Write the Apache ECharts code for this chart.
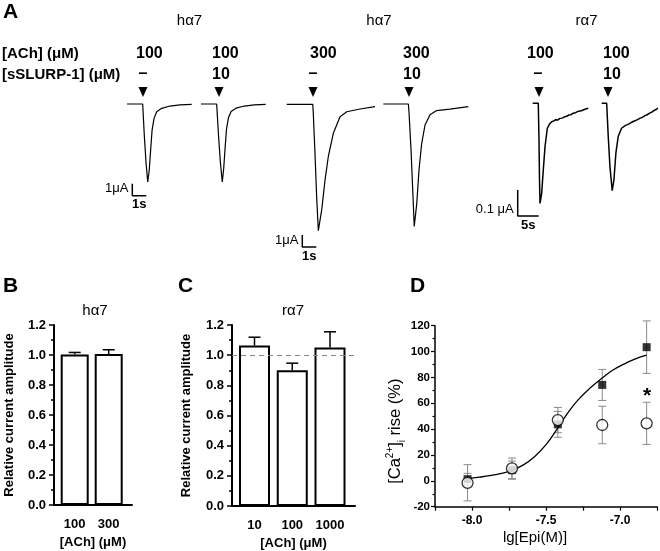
<!DOCTYPE html>
<html>
<head>
<meta charset="utf-8">
<script src="https://cdn.jsdelivr.net/npm/echarts@6/dist/echarts.min.js"></script>
<style>
html,body{margin:0;padding:0;background:#fff;}
#chart{width:660px;height:551px;}
</style>
</head>
<body>
<div id="chart"></div>
<script>
// ---------------- DATA ----------------
// Panel A: group titles and application labels
const groupTitles = ['hα7', 'hα7', 'rα7'];
const achConc = ['100', '100', '300', '300', '100', '100'];
const slurpConc = ['–', '10', '–', '10', '–', '10'];

// Panel A: current traces (time in s from trace start, current in μA)
const trace1T = [0, 1.12, 1.24, 1.36, 1.48, 1.59, 1.69, 1.79, 1.93, 2.12, 2.48, 3.07, 3.79, 4.62];
const trace1I = [0, 0, -2.7, -4.9, -6.5, -5.5, -3.8, -2.2, -1.2, -0.64, -0.36, -0.17, -0.08, -0.03];
const trace2T = [0, 1.12, 1.25, 1.38, 1.52, 1.62, 1.72, 1.82, 1.96, 2.15, 2.5, 3.1, 3.8, 4.62];
const trace2I = [0, 0, -2.6, -4.8, -6.5, -5.4, -3.7, -2.1, -1.15, -0.62, -0.35, -0.17, -0.08, -0.03];
const trace3T = [0, 1.86, 1.9, 2.02, 2.14, 2.26, 2.5, 2.74, 2.97, 3.33, 3.81, 4.29, 5.24, 6.31];
const trace3I = [0, 0, -0.75, -4.08, -7.7, -10.53, -8.8, -6.3, -4.37, -2.42, -1.03, -0.62, -0.39, -0.2];
const trace4T = [0, 1.79, 1.84, 1.98, 2.1, 2.21, 2.39, 2.55, 2.74, 2.98, 3.34, 3.81, 4.76, 6.07];
const trace4I = [0, 0, -0.75, -3.8, -7.1, -10.2, -8.3, -5.5, -3.3, -1.75, -0.9, -0.55, -0.42, -0.22];
const trace5T = [0, 1.33, 1.5, 1.62, 1.74, 2.14, 2.52, 2.93, 3.48, 4.0, 4.52, 5.0, 5.5, 6.0, 6.5, 7.0, 7.6, 8.1, 8.6, 9.1, 9.67, 10.2, 10.8, 11.4, 12.0, 12.6, 13.24];
const trace5I = [0, 0, -0.141, -0.295, -0.385, -0.346, -0.257, -0.167, -0.096, -0.080, -0.071, -0.068, -0.063, -0.064, -0.058, -0.057, -0.052, -0.050, -0.045, -0.044, -0.038, -0.036, -0.031, -0.030, -0.026, -0.022, -0.019];
const trace6T = [0, 1.19, 1.57, 1.98, 2.52, 2.93, 3.4, 3.95, 4.76, 5.2, 5.7, 6.2, 6.74, 7.4, 8.0, 8.6, 9.12, 9.7, 10.3, 10.9, 11.5, 12.0, 12.5, 13.0, 13.48];
const trace6I = [0, 0, -0.128, -0.244, -0.336, -0.295, -0.192, -0.128, -0.096, -0.091, -0.085, -0.082, -0.077, -0.071, -0.067, -0.063, -0.058, -0.054, -0.048, -0.044, -0.038, -0.034, -0.028, -0.024, -0.019];

// Panel A: scale bars (current, time)
const scaleBarCurrent = [1, 1, 0.1];
const scaleBarTime = [1, 1, 5];
const scaleBarCurrentLabel = ['1μA', '1μA', '0.1 μA'];
const scaleBarTimeLabel = ['1s', '1s', '5s'];

// Panel B
const catB = ['100', '300'];
const valB = [1.004, 1.006];
const errB = [0.013, 0.029];

// Panel C
const catC = ['10', '100', '1000'];
const valC = [1.064, 0.900, 1.051];
const errC = [0.055, 0.047, 0.104];

// Panel D
const xD = [-8.03, -7.73, -7.42, -7.12, -6.82];
const ySquare = [1.3, 8.3, 43.7, 74.2, 103.4];
const eSquare = [4.5, 7, 10, 12, 20.3];
const yCircle = [-1.5, 9.6, 47, 43.2, 44.5];
const eCircle = [14, 8, 9.8, 14.5, 16.3];
const curveX = [-8.03, -7.95, -7.88, -7.80, -7.73, -7.65, -7.58, -7.50, -7.42, -7.35, -7.28, -7.20, -7.12, -7.05, -6.97, -6.90, -6.82];
const curveY = [1.9, 2.9, 4.0, 5.8, 8.2, 12.5, 18.5, 28, 41, 53, 63, 72, 79.5, 85.5, 90.5, 94.2, 97.2];

// ---------------- LAYOUT ----------------
const FF = '"Liberation Sans", Arial, Helvetica, sans-serif';
const traceT = [trace1T, trace2T, trace3T, trace4T, trace5T, trace6T];
const traceI = [trace1I, trace2I, trace3I, trace4I, trace5I, trace6I];
// baseline start pixel and scale (px per s, px per μA)
const traceLayout = [
  {x0: 127, y0: 104, pxS: 14, pxI: 12},
  {x0: 201, y0: 104, pxS: 14, pxI: 12},
  {x0: 286.7, y0: 104.3, pxS: 14, pxI: 12},
  {x0: 383.3, y0: 104, pxS: 14, pxI: 12},
  {x0: 532.7, y0: 103.3, pxS: 4.2, pxI: 260},
  {x0: 601.7, y0: 103.3, pxS: 4.2, pxI: 260}
];
const scaleLayout = [
  {x0: 132.3, y0: 195.7, pxS: 14, pxI: 12},
  {x0: 302.3, y0: 247, pxS: 14, pxI: 12},
  {x0: 517.7, y0: 216, pxS: 4.2, pxI: 260}
];
const arrowX = [143, 219, 313, 409, 539, 608];
const colLeft = [136, 212, 310, 403, 527, 603];
const dashCenter = [143, 219, 313, 409, 538, 608];

const grids = [], xAxes = [], yAxes = [], series = [];
function hiddenAxis(min, max, gi) {
  return {gridIndex: gi, type: 'value', min: min, max: max, show: false, scale: false};
}
// traces
traceT.forEach((tArr, k) => {
  const L = traceLayout[k];
  const tMax = tArr[tArr.length - 1] + 0.5;
  const iMin = Math.min.apply(null, traceI[k]) * 1.1;
  const iMax = -iMin * 0.1;
  const gi = grids.length;
  grids.push({left: L.x0, top: L.y0 - iMax * L.pxI, width: tMax * L.pxS, height: (iMax - iMin) * L.pxI});
  xAxes.push(hiddenAxis(0, tMax, gi));
  yAxes.push(hiddenAxis(iMin, iMax, gi));
  series.push({
    type: 'line', xAxisIndex: gi, yAxisIndex: gi,
    data: tArr.map((t, j) => [t, traceI[k][j]]),
    showSymbol: false, clip: false, silent: true,
    lineStyle: {color: '#000', width: k >= 4 ? 1.5 : 1.2}
  });
});
// scale bars
scaleBarCurrent.forEach((c, k) => {
  const L = scaleLayout[k];
  const s = scaleBarTime[k];
  const gi = grids.length;
  grids.push({left: L.x0, top: L.y0 - c * L.pxI, width: s * L.pxS, height: c * L.pxI});
  xAxes.push(hiddenAxis(0, s, gi));
  yAxes.push(hiddenAxis(0, c, gi));
  series.push({
    type: 'line', xAxisIndex: gi, yAxisIndex: gi,
    data: [[0, c], [0, 0], [s, 0]],
    showSymbol: false, clip: false, silent: true,
    lineStyle: {color: '#000', width: 1.5}
  });
});

function axisStyleBC(gi, xmin, xmax, cats, nameGapY) {
  return {
    x: {
      gridIndex: gi, type: 'value', min: xmin, max: xmax,
      axisLine: {show: true, onZero: false, lineStyle: {color: '#000', width: 2}},
      axisTick: {show: false}, splitLine: {show: false},
      axisLabel: {customValues: cats.map((c, i) => i + 1), formatter: v => cats[Math.round(v) - 1] || '',
        color: '#000', fontWeight: 'bold', fontSize: 13, fontFamily: FF, margin: 13},
      name: '[ACh] (μM)', nameLocation: 'middle', nameGap: 31,
      nameTextStyle: {color: '#000', fontWeight: 'bold', fontSize: 13, fontFamily: FF}
    },
    y: {
      gridIndex: gi, type: 'value', min: 0, max: 1.2, interval: 0.2,
      axisLine: {show: true, onZero: false, lineStyle: {color: '#000', width: 2}},
      axisTick: {show: true, length: 5, lineStyle: {color: '#000', width: 1.5}},
      minorTick: {show: true, splitNumber: 2, length: 3, lineStyle: {color: '#000', width: 1.5}},
      splitLine: {show: false}, minorSplitLine: {show: false},
      axisLabel: {formatter: v => v.toFixed(1), color: '#000', fontWeight: 'bold', fontSize: 13, fontFamily: FF, margin: 8},
      name: 'Relative current amplitude', nameLocation: 'middle', nameRotate: 90, nameGap: nameGapY,
      nameTextStyle: {color: '#000', fontWeight: 'bold', fontSize: 13, fontFamily: FF}
    }
  };
}

function errBarRender(color, capW, lw, both) {
  return function (params, api) {
    const x = api.value(0), y = api.value(1), e = api.value(2);
    const top = api.coord([x, y + e]);
    const bot = api.coord([x, both ? y - e : y]);
    const st = {stroke: color, lineWidth: lw};
    const ch = [
      {type: 'line', shape: {x1: top[0], y1: top[1], x2: bot[0], y2: bot[1]}, style: st},
      {type: 'line', shape: {x1: top[0] - capW / 2, y1: top[1], x2: top[0] + capW / 2, y2: top[1]}, style: st}
    ];
    if (both) ch.push({type: 'line', shape: {x1: bot[0] - capW / 2, y1: bot[1], x2: bot[0] + capW / 2, y2: bot[1]}, style: st});
    return {type: 'group', children: ch};
  };
}

// Panel B
{
  const gi = grids.length;
  grids.push({left: 54, top: 325, width: 78, height: 180});
  const a = axisStyleBC(gi, 0.391, 2.685, catB, 38);
  xAxes.push(a.x); yAxes.push(a.y);
  series.push({type: 'custom', xAxisIndex: gi, yAxisIndex: gi, renderItem: errBarRender('#000', 12, 1.5, false),
    data: valB.map((v, i) => [i + 1, v, errB[i]]), silent: true, z: 1});
  series.push({type: 'bar', xAxisIndex: gi, yAxisIndex: gi, barWidth: 28, silent: true, z: 2,
    data: valB.map((v, i) => [i + 1, v]),
    itemStyle: {color: '#fff', borderColor: '#000', borderWidth: 2}});
}
// Panel C
{
  const gi = grids.length;
  grids.push({left: 232, top: 325, width: 123, height: 181});
  const a = axisStyleBC(gi, 0.404, 3.662, catC, 39);
  xAxes.push(a.x); yAxes.push(a.y);
  series.push({type: 'custom', xAxisIndex: gi, yAxisIndex: gi, renderItem: errBarRender('#000', 12, 1.5, false),
    data: valC.map((v, i) => [i + 1, v, errC[i]]), silent: true, z: 1});
  series.push({type: 'bar', xAxisIndex: gi, yAxisIndex: gi, barWidth: 31, silent: true, z: 2,
    data: valC.map((v, i) => [i + 1, v]),
    itemStyle: {color: '#fff', borderColor: '#000', borderWidth: 2},
    markLine: {silent: true, symbol: 'none', label: {show: false}, z: 5,
      lineStyle: {color: '#888', type: [5, 4], width: 1}, data: [{yAxis: 1}]}});
}
// Panel D
{
  const gi = grids.length;
  grids.push({left: 435, top: 325.7, width: 223, height: 181});
  xAxes.push({
    gridIndex: gi, type: 'value', min: -8.25, max: -6.75, interval: 0.25,
    axisLine: {show: true, onZero: false, lineStyle: {color: '#000', width: 1.5}},
    axisTick: {show: true, length: 4, lineStyle: {color: '#000', width: 1.2}},
    splitLine: {show: false},
    axisLabel: {formatter: v => (Math.abs(v * 2 - Math.round(v * 2)) < 1e-6 && v > -8.2 && v < -6.8) ? v.toFixed(1) : '',
      color: '#000', fontWeight: 'bold', fontSize: 12, fontFamily: FF, margin: 8, showMinLabel: true, showMaxLabel: true},
    name: 'lg[Epi(M)]', nameLocation: 'middle', nameGap: 24,
    nameTextStyle: {color: '#000', fontSize: 15, fontFamily: FF, padding: [0, 22, 0, 0]}
  });
  yAxes.push({
    gridIndex: gi, type: 'value', min: -20, max: 120, interval: 20,
    axisLine: {show: true, onZero: false, lineStyle: {color: '#000', width: 1.5}},
    axisTick: {show: true, length: 4, lineStyle: {color: '#000', width: 1.2}},
    minorTick: {show: true, splitNumber: 2, length: 2.5, lineStyle: {color: '#000', width: 1.2}},
    splitLine: {show: false}, minorSplitLine: {show: false},
    axisLabel: {color: '#000', fontWeight: 'bold', fontSize: 11.5, fontFamily: FF, margin: 5},
    name: '[Ca{sup|2+}]{sub|i} rise (%)', nameLocation: 'middle', nameRotate: 90, nameGap: 27,
    nameTextStyle: {color: '#000', fontSize: 16.5, fontFamily: FF, lineHeight: 22, padding: [0, 30, 0, 0],
      rich: {sup: {fontSize: 10, fontFamily: FF, color: '#000', verticalAlign: 'top', lineHeight: 15},
             sub: {fontSize: 10, fontFamily: FF, color: '#000', verticalAlign: 'bottom', lineHeight: 11}}}
  });
  series.push({type: 'custom', xAxisIndex: gi, yAxisIndex: gi, renderItem: errBarRender('#8a8a8a', 8, 1, true),
    data: xD.map((x, i) => [x, ySquare[i], eSquare[i]]), silent: true, z: 1, clip: false});
  series.push({type: 'custom', xAxisIndex: gi, yAxisIndex: gi, renderItem: errBarRender('#8a8a8a', 8, 1, true),
    data: xD.map((x, i) => [x, yCircle[i], eCircle[i]]), silent: true, z: 1, clip: false});
  series.push({type: 'line', xAxisIndex: gi, yAxisIndex: gi, smooth: true, showSymbol: false, silent: true, z: 2,
    data: curveX.map((x, i) => [x, curveY[i]]), lineStyle: {color: '#000', width: 1.3}});
  series.push({type: 'scatter', xAxisIndex: gi, yAxisIndex: gi, symbol: 'rect', symbolSize: 8, silent: true, z: 3,
    data: xD.map((x, i) => [x, ySquare[i]]), itemStyle: {color: '#000'}});
  series.push({type: 'scatter', xAxisIndex: gi, yAxisIndex: gi, symbol: 'circle', symbolSize: 11, silent: true, z: 4,
    data: xD.map((x, i) => [x, yCircle[i]]), itemStyle: {color: '#fff', borderColor: '#000', borderWidth: 1.3}});
}

// ---------------- TEXT / GRAPHIC ----------------
const graphics = [];
function txt(x, y, text, size, weight, align) {
  graphics.push({type: 'text', x: x, y: y, silent: true,
    style: {text: text, fill: '#000', font: (weight || 'normal') + ' ' + size + 'px ' + FF,
      textAlign: align || 'left', align: align || 'left', textVerticalAlign: 'middle', verticalAlign: 'middle'}});
}
txt(3, 12, 'A', 21, 'bold');
txt(3, 286, 'B', 21, 'bold');
txt(178, 286, 'C', 21, 'bold');
txt(410, 286, 'D', 21, 'bold');
const groupCenters = [189.5, 379, 586.5];
groupTitles.forEach((g, i) => txt(groupCenters[i], 21, g, 15, 'normal', 'center'));
txt(2, 54, '[ACh] (μM)', 15, 'bold');
txt(2, 75, '[sSLURP-1] (μM)', 15, 'bold');
achConc.forEach((c, i) => txt(colLeft[i], 54, c, 16, 'bold'));
slurpConc.forEach((c, i) => {
  if (c === '–') txt(dashCenter[i], 74, c, 16, 'bold', 'center');
  else txt(colLeft[i], 75, c, 16, 'bold');
});
arrowX.forEach(x => graphics.push({type: 'polygon', silent: true,
  shape: {points: [[x - 4.5, 87], [x + 4.5, 87], [x, 97]]}, style: {fill: '#000'}}));
// scale bar labels
scaleLayout.forEach((L, k) => {
  txt(L.x0 - 4, L.y0 - 7, scaleBarCurrentLabel[k], 13, 'normal', 'right');
  txt(L.x0 + scaleBarTime[k] * L.pxS / 2, L.y0 + 9, scaleBarTimeLabel[k], 13, 'bold', 'center');
});
txt(95, 311, 'hα7', 15, 'normal', 'center');
txt(293, 311, 'rα7', 15, 'normal', 'center');
txt(647, 396, '*', 21, 'bold', 'center');

const chart = echarts.init(document.getElementById('chart'), null, {renderer: 'canvas'});
chart.setOption({
  animation: false,
  backgroundColor: '#fff',
  grid: grids, xAxis: xAxes, yAxis: yAxes, series: series,
  graphic: graphics
});
</script>
</body>
</html>
